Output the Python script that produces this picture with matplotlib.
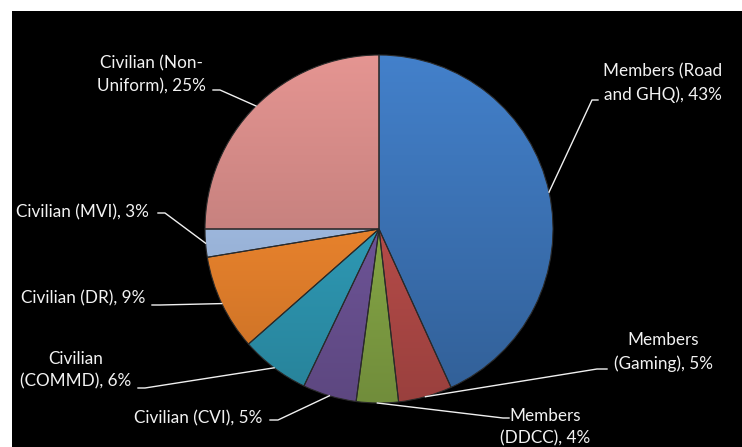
import numpy as np
import matplotlib.pyplot as plt
from matplotlib.colors import to_rgb
from matplotlib.patches import Rectangle

# slices, clockwise from 12 o'clock
names = ["Members (Road\nand GHQ)", "Members\n(Gaming)", "Members\n(DDCC)",
         "Civilian (CVI)", "Civilian\n(COMMD)", "Civilian (DR)",
         "Civilian (MVI)", "Civilian (Non-\nUniform)"]
shares = [43.2, 5.0, 3.9, 5.0, 6.4, 8.9, 2.6, 25.0]
colors = ["#3E77BC", "#C0504D", "#8DB04A", "#7459A0",
          "#31A2BF", "#F68A2F", "#A6C2EA", "#D48A87"]

# label placement in pixels: text centre, line knee, line end at the text
label_xy = [(663, 83), (663, 352), (545, 427), (198, 418),
            (76, 370), (83, 298), (82, 212), (151, 75)]
knees = [(592, 100), (597, 369), (503, 418), (278, 420),
         (145, 388), (160, 305), (165, 213), (220, 90)]
line_ends = [(598, 100), (607, 369), (509, 418), (270, 420),
             (138, 388), (152, 305), (158, 213), (213, 90)]

W, H = 742, 447
cx, cy, R = 379, 229, 174

fig = plt.figure(figsize=(W / 100, H / 100), dpi=100, facecolor="white")
ax = fig.add_axes([0, 0, 1, 1])
ax.set_facecolor("white")
ax.add_patch(Rectangle((12, 0), W, H - 11, facecolor="black", edgecolor="none", zorder=0))

wedges, _ = ax.pie(shares, colors=colors, startangle=90, counterclock=False,
                   center=(cx, H - cy), radius=R,
                   wedgeprops=dict(edgecolor="#2a2a2a", linewidth=0.8))
ax.set_xlim(0, W)
ax.set_ylim(0, H)
ax.axis("off")

# vertical shading inside each wedge (lighter on top, darker below)
ny = 200
shade = np.linspace(0.8, 1.08, ny)[:, None, None]
for w, c in zip(wedges, colors):
    rgb = np.array(to_rgb(c))
    img = np.clip(shade * rgb[None, None, :] * np.ones((ny, 2, 3)), 0, 1)
    im = ax.imshow(img, extent=(cx - R, cx + R, H - cy - R, H - cy + R),
                   origin="lower", aspect="auto", zorder=1.5, interpolation="bilinear")
    im.set_clip_path(w)
    w.set_facecolor("none")
    w.set_zorder(2)
ax.set_xlim(0, W)
ax.set_ylim(0, H)

for w, name, s, txy, kn, le in zip(wedges, names, shares, label_xy, knees, line_ends):
    mid = np.deg2rad((w.theta1 + w.theta2) / 2)
    px = cx + R * np.cos(mid)
    py = (H - cy) + R * np.sin(mid)
    ax.plot([px, kn[0], le[0]], [py, H - kn[1], H - le[1]],
            color="#F0F0F0", lw=1.0, zorder=3)
    ax.text(txy[0], H - txy[1], f"{name}, {round(s)}%", color="#F2F2F2",
            fontsize=12.3, family="Lato", ha="center", va="center",
            linespacing=1.5, zorder=4)

fig.savefig("out.png", dpi=100, facecolor="white")
